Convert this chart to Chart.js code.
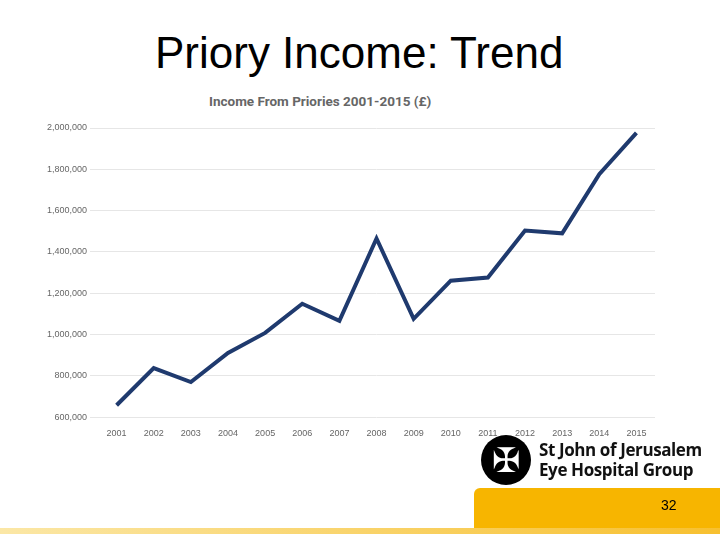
<!DOCTYPE html>
<html><head><meta charset="utf-8">
<script src="https://cdn.jsdelivr.net/npm/chart.js@4"></script>
<style>
body{margin:0;width:720px;height:540px;background:#fff;position:relative;overflow:hidden;font-family:"Liberation Sans",Arial,sans-serif}
#t{position:absolute;top:28px;left:155px;font-size:44px;color:#000;white-space:nowrap}
#st{position:absolute;top:93px;left:209px;font-family:Roboto;font-weight:bold;font-size:13.5px;color:#666}
#cw{position:absolute;left:44px;top:116px;width:621px;height:326px}
#logo{position:absolute;left:481px;top:435px;width:240px;height:50px}
#circ{position:absolute;left:0;top:0;width:50px;height:50px;border-radius:50%;background:#000;color:#fff;font-size:34px;text-align:center;line-height:50px}
#lt{position:absolute;left:58px;top:5px;font-family:"Open Sans",sans-serif;font-weight:bold;font-size:17px;line-height:20px;color:#111;letter-spacing:-0.4px}
#box{position:absolute;left:474px;top:488px;width:246px;height:40px;background:#f7b500;border-radius:6px 0 0 0;font-size:14px;}
#box span{position:absolute;left:187px;top:9px}
#strip{position:absolute;left:0;top:528px;width:720px;height:6px;background:linear-gradient(to right,#fbe7a6,#f7c030)}
</style></head><body>
<div id="t">Priory Income: Trend</div>
<div id="st">Income From Priories 2001-2015 (£)</div>
<div id="cw"><canvas id="c"></canvas></div>
<div id="logo"><div id="circ">✠</div><div id="lt">St John of Jerusalem<br>Eye Hospital Group</div></div>
<div id="box"><span>32</span></div>
<div id="strip"></div>
<script>
const years=["2001","2002","2003","2004","2005","2006","2007","2008","2009","2010","2011","2012","2013","2014","2015"];
const income=[658000,838000,770000,911000,1008000,1149000,1067000,1465000,1076000,1261000,1276000,1504000,1490000,1776000,1976000];
new Chart(document.getElementById('c'),{type:'line',
data:{labels:years,datasets:[{data:income,borderColor:'#1f3a6e',borderWidth:4,pointRadius:0,tension:0}]},
options:{responsive:true,maintainAspectRatio:false,animation:false,
layout:{padding:{right:10,top:12}},
plugins:{legend:{display:false},title:{display:false},tooltip:{enabled:false}},
scales:{x:{offset:true,grid:{display:false},border:{display:false},ticks:{color:'#666',font:{size:9}}},
y:{min:600000,max:2000000,ticks:{stepSize:200000,color:'#666',font:{size:9},callback:v=>v.toLocaleString('en-US')},grid:{color:'#e6e6e6'},border:{display:false}}}}});
</script></body></html>
